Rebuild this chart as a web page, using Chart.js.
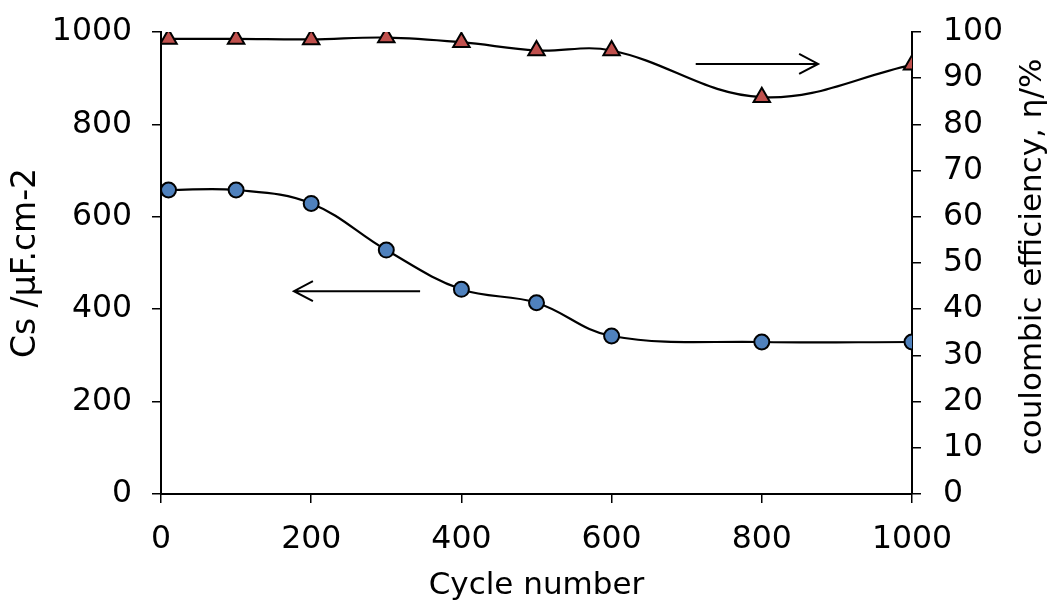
<!DOCTYPE html>
<html>
<head>
<meta charset="utf-8">
<script src="https://cdn.jsdelivr.net/npm/chart.js@4/dist/chart.umd.min.js"></script>
<style>
  body { margin: 0; background: #fff; }
  canvas { display: block; }
</style>
</head>
<body>
<canvas id="grafico" width="1052" height="603"></canvas>
<script>
// ciclos medidos
const ciclos = [10, 100, 200, 300, 400, 500, 600, 800, 1000];
// capacitancia especifica (eixo esquerdo)
const capacitancia = [658, 658, 629, 528, 443, 414, 342, 329, 329];
// eficiencia coulombica (eixo direito)
const eficiencia = [98.5, 98.5, 98.4, 98.8, 97.8, 96.0, 96.0, 85.9, 92.9];

const ticksX = [0, 200, 400, 600, 800, 1000];
const ticksEsq = [0, 200, 400, 600, 800, 1000];
const ticksDir = [0, 10, 20, 30, 40, 50, 60, 70, 80, 90, 100];

// setas indicando o eixo de cada serie: [x inicio, x fim, valor]
const setaDir = [712, 875, 93.1];
const setaEsq = [345, 177, 439];

const fonte = { family: "DejaVu Sans", size: 31.5 };

function pontos(ys) {
  return ciclos.map((c, i) => ({ x: c, y: ys[i] }));
}

function desenharSeta(ctx, x1, x2, y) {
  const dir = x2 > x1 ? 1 : -1;
  ctx.beginPath();
  ctx.moveTo(x1, y);
  ctx.lineTo(x2, y);
  ctx.moveTo(x2 - dir * 19, y - 10);
  ctx.lineTo(x2, y);
  ctx.lineTo(x2 - dir * 19, y + 10);
  ctx.stroke();
}

const extras = {
  id: "extras",
  afterDatasetsDraw(chart) {
    const { ctx, scales, chartArea } = chart;
    const x = scales.x, yE = scales.yEsq, yD = scales.yDir;
    ctx.save();
    ctx.strokeStyle = "#000";
    ctx.lineWidth = 2;
    desenharSeta(ctx, x.getPixelForValue(setaDir[0]), x.getPixelForValue(setaDir[1]), yD.getPixelForValue(setaDir[2]));
    desenharSeta(ctx, x.getPixelForValue(setaEsq[0]), x.getPixelForValue(setaEsq[1]), yE.getPixelForValue(setaEsq[2]));
    ctx.restore();

    // titulo do eixo direito, lido de baixo para cima
    ctx.save();
    ctx.translate(1033, (chartArea.top + chartArea.bottom) / 2 - 6);
    ctx.rotate(-Math.PI / 2);
    ctx.font = "31px 'DejaVu Sans'";
    ctx.fillStyle = "#000";
    ctx.textAlign = "center";
    ctx.textBaseline = "middle";
    ctx.fillText("coulombic efficiency, η/%", 0, 0);
    ctx.restore();
  }
};

const grade = { drawOnChartArea: false, drawTicks: true, tickLength: 9, color: "#000", lineWidth: 1.5 };
const borda = { display: true, color: "#000", width: 2 };
const semVirgula = v => String(v);

// largura fixa do eixo vertical, sem folga extra em cima e embaixo
const fixarY = largura => s => {
  s.width = largura;
  s.paddingTop = 0;
  s.paddingBottom = 0;
};

new Chart(document.getElementById("grafico"), {
  type: "line",
  data: {
    datasets: [
      {
        label: "Cs",
        data: pontos(capacitancia),
        yAxisID: "yEsq",
        borderColor: "#000",
        borderWidth: 2.2,
        tension: 0.38,
        pointStyle: "circle",
        pointRadius: 7.5,
        pointBackgroundColor: "#4F81BD",
        pointBorderColor: "#000",
        pointBorderWidth: 2
      },
      {
        label: "eta",
        data: pontos(eficiencia),
        yAxisID: "yDir",
        borderColor: "#000",
        borderWidth: 2.2,
        tension: 0.38,
        pointStyle: "triangle",
        pointRadius: 9.5,
        pointBackgroundColor: "#C0504D",
        pointBorderColor: "#000",
        pointBorderWidth: 2
      }
    ]
  },
  options: {
    responsive: false,
    animation: false,
    layout: { padding: { top: 32 } },
    plugins: { legend: { display: false }, tooltip: { enabled: false } },
    scales: {
      x: {
        type: "linear",
        min: 0, max: 1000,
        afterFit: s => { s.height = 109; },
        afterBuildTicks: s => { s.ticks = ticksX.map(v => ({ value: v })); },
        grid: grade, border: borda,
        ticks: { color: "#000", font: fonte, padding: 18, maxRotation: 0, callback: semVirgula },
        title: { display: true, text: "Cycle number", color: "#000", font: { family: "DejaVu Sans", size: 31, lineHeight: 1.1 }, padding: { top: 0, bottom: 0 } }
      },
      yEsq: {
        type: "linear", position: "left",
        min: 0, max: 1000,
        afterFit: fixarY(161),
        afterBuildTicks: s => { s.ticks = ticksEsq.map(v => ({ value: v })); },
        grid: grade, border: borda,
        ticks: { color: "#000", font: fonte, padding: 20, callback: semVirgula },
        title: { display: true, text: "Cs /µF.cm-2", color: "#000", font: { family: "DejaVu Sans", size: 33 }, padding: { top: 7, bottom: 0 } }
      },
      yDir: {
        type: "linear", position: "right",
        min: 0, max: 100,
        afterFit: fixarY(140),
        afterBuildTicks: s => { s.ticks = ticksDir.map(v => ({ value: v })); },
        grid: grade, border: borda,
        ticks: { color: "#000", font: fonte, padding: 22 }
      }
    }
  },
  plugins: [extras]
});
</script>
</body>
</html>
